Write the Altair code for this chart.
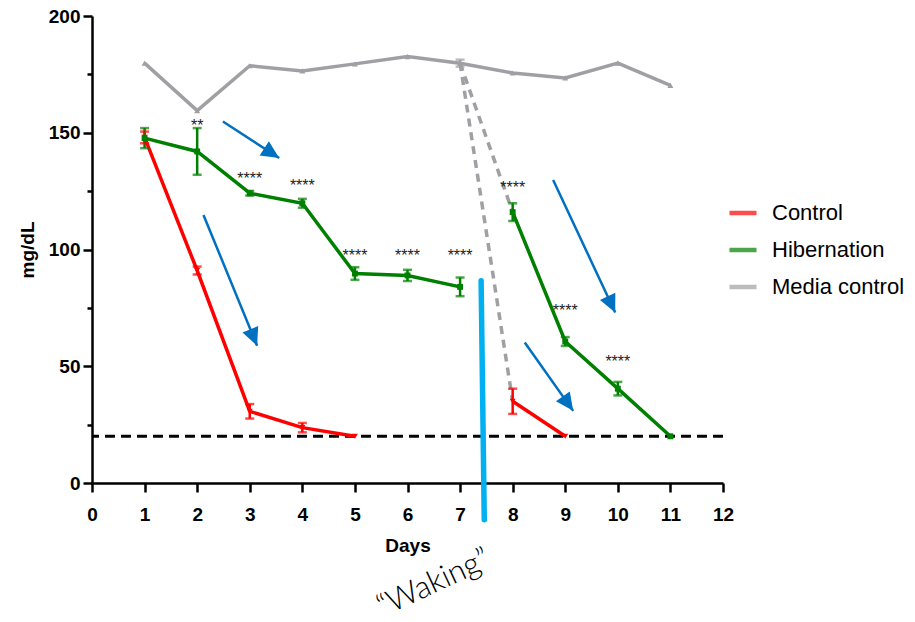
import math
import altair as alt
import pandas as pd

# ---------------- data ----------------
series_names = ["Control", "Hibernation", "Media control"]
series_colors = ["#FF0000", "#008000", "#A0A0A4"]
series_shapes = ["triangle-down", "square", "triangle-up"]

days_control = [1, 2, 3, 4, 5, 8, 9]
control = [148, 91, 30.7, 23.7, 20, 35, 20]
control_err = [2.5, 1.7, 3.1, 2.0, 0, 5.4, 0]
control_seg = [1, 1, 1, 1, 1, 2, 2]

days_hib = [1, 2, 3, 4, 5, 6, 7, 8, 9, 10, 11]
hibernation = [147.7, 142, 124.1, 119.8, 89.7, 88.9, 84, 116, 60.6, 40.4, 20]
hib_err = [4.3, 10, 1.0, 1.9, 2.7, 2.4, 4.0, 3.8, 1.9, 2.9, 0]
hib_seg = [1, 1, 1, 1, 1, 1, 1, 2, 2, 2, 2]

days_media = [1, 2, 3, 4, 5, 6, 7, 8, 9, 10, 11]
media = [179.8, 159.5, 178.7, 176.5, 179.5, 182.6, 179.8, 175.6, 173.5, 179.8, 170.3]
media_err = [0, 0, 0, 0, 0, 0, 1.5, 0, 0, 0, 0]
media_seg = [1] * 11

sig_days = [2, 3, 4, 5, 6, 7, 8, 9, 10]
sig_labels = ["**", "****", "****", "****", "****", "****", "****", "****", "****"]
sig_y = [154.6, 132, 129, 99, 99, 99, 128, 75.4, 53.4]

arrow_x1 = [2.49, 2.12, 8.77, 8.23]
arrow_y1 = [154.8, 114.8, 129.8, 60.2]
arrow_x2 = [3.56, 3.14, 9.95, 9.15]
arrow_y2 = [139.2, 58.8, 73.0, 30.9]

limit_value = 20
waking_x = [7.40, 7.46]
waking_y = [86.6, -15.7]
waking_label = "\u201cWaking\u201d"
waking_text_pos = (6.5, -43)

x_ticks = list(range(0, 13))
y_ticks = [0, 25, 50, 75, 100, 125, 150, 175, 200]

# ---------------- build tables ----------------
W, H = 631, 467
col_of = dict(zip(series_names, series_colors))
shp_of = dict(zip(series_names, series_shapes))
rows = []
for name, ds, vs, es, ss_ in [
    ("Control", days_control, control, control_err, control_seg),
    ("Hibernation", days_hib, hibernation, hib_err, hib_seg),
    ("Media control", days_media, media, media_err, media_seg),
]:
    for d, v, e, s in zip(ds, vs, es, ss_):
        rows.append({"series": name, "day": d, "value": v, "err": e,
                     "lo": v - e, "hi": v + e, "seg": f"{name}-{s}",
                     "hex": col_of[name], "shp": shp_of[name]})
df = pd.DataFrame(rows)
df_err = df[df["err"] > 0]

# dashed connections from media control (day 7) to the day-8 points
i7 = days_media.index(7)
conn = pd.DataFrame([
    {"pair": "c", "day": 7, "value": media[i7]},
    {"pair": "c", "day": 8, "value": control[days_control.index(8)]},
    {"pair": "h", "day": 7, "value": media[i7]},
    {"pair": "h", "day": 8, "value": hibernation[days_hib.index(8)]},
])

sig = pd.DataFrame({"day": sig_days, "y": sig_y, "label": sig_labels})

arr = pd.DataFrame({"x1": arrow_x1, "y1": arrow_y1, "x2": arrow_x2, "y2": arrow_y2})
angs = []
for a, b, c, d in zip(arrow_x1, arrow_y1, arrow_x2, arrow_y2):
    dx = (c - a) * W / 12.0
    dy = -(d - b) * H / 200.0
    angs.append(math.degrees(math.atan2(dx, -dy)) % 360)
arr["ang"] = angs

wk = pd.DataFrame({"x1": [waking_x[0]], "y1": [waking_y[0]],
                   "x2": [waking_x[1]], "y2": [waking_y[1]]})

# ---------------- scales ----------------
xs = alt.Scale(domain=[0, 12], nice=False, zero=False)
ys = alt.Scale(domain=[0, 200], nice=False)
cs = alt.Scale(domain=series_names, range=series_colors)

x_axis = alt.Axis(values=x_ticks, title="Days", labelPadding=13, titlePadding=12,
                  labelAngle=0, labelFlush=False)
y_axis = alt.Axis(values=y_ticks, title="mg/dL",
                  labelExpr="datum.value % 50 == 0 ? datum.label : ''",
                  tickSize={"condition": {"test": "datum.value % 50 != 0", "value": 5}, "value": 9},
                  labelPadding=3, titlePadding=11, labelFlush=False)

base = alt.Chart(df)

limit_rule = alt.Chart(pd.DataFrame({"y": [limit_value]})).mark_rule(
    color="black", strokeWidth=3, strokeDash=[10, 6]
).encode(y=alt.Y("y:Q", scale=ys, axis=y_axis))

conn_lines = alt.Chart(conn).mark_line(
    color="#A0A0A4", strokeWidth=3.5, strokeDash=[8, 6]
).encode(
    x=alt.X("day:Q", scale=xs, axis=x_axis),
    y=alt.Y("value:Q", scale=ys),
    detail="pair:N",
)

lines = base.mark_line(strokeWidth=3.5).encode(
    x=alt.X("day:Q", scale=xs, axis=x_axis),
    y=alt.Y("value:Q", scale=ys, axis=y_axis),
    color=alt.Color("series:N", scale=cs, legend=alt.Legend(
        title=None, orient="none", legendX=635, legendY=181,
        symbolType="stroke", symbolSize=730, symbolStrokeWidth=4.5,
        labelFont="Liberation Sans", labelFontSize=22, labelColor="black",
        labelOffset=13, rowPadding=10, padding=0, labelLimit=300,
    )),
    detail="seg:N",
    order="day:Q",
)

err_rules = alt.Chart(df_err).mark_rule(strokeWidth=2.5).encode(
    x=alt.X("day:Q", scale=xs),
    y=alt.Y("lo:Q", scale=ys),
    y2="hi:Q",
    color=alt.Color("hex:N", scale=None),
)
cap_lo = alt.Chart(df_err).mark_tick(orient="horizontal", size=9, thickness=2.5).encode(
    x=alt.X("day:Q", scale=xs),
    y=alt.Y("lo:Q", scale=ys),
    color=alt.Color("hex:N", scale=None),
)
cap_hi = alt.Chart(df_err).mark_tick(orient="horizontal", size=9, thickness=2.5).encode(
    x=alt.X("day:Q", scale=xs),
    y=alt.Y("hi:Q", scale=ys),
    color=alt.Color("hex:N", scale=None),
)

points = base.mark_point(filled=True, size=35, opacity=1).encode(
    x=alt.X("day:Q", scale=xs),
    y=alt.Y("value:Q", scale=ys),
    color=alt.Color("hex:N", scale=None),
    shape=alt.Shape("shp:N", scale=None),
)

stars = alt.Chart(sig).mark_text(
    font="Liberation Sans", fontSize=16, color="#222222", baseline="alphabetic", dy=9
).encode(
    x=alt.X("day:Q", scale=xs),
    y=alt.Y("y:Q", scale=ys),
    text="label:N",
)

shafts = alt.Chart(arr).mark_rule(color="#0070C0", strokeWidth=2.5).encode(
    x=alt.X("x1:Q", scale=xs), y=alt.Y("y1:Q", scale=ys),
    x2="x2:Q", y2="y2:Q",
)
heads = alt.Chart(arr).mark_point(
    shape="M0,0L-0.5,1.05L0.5,1.05Z", filled=True, color="#0070C0", size=1150, opacity=1
).encode(
    x=alt.X("x2:Q", scale=xs), y=alt.Y("y2:Q", scale=ys),
    angle=alt.Angle("ang:Q", scale=None),
)

waking_line = alt.Chart(wk).mark_rule(
    color="#00B0F0", strokeWidth=5.5, strokeCap="round"
).encode(
    x=alt.X("x1:Q", scale=xs), y=alt.Y("y1:Q", scale=ys),
    x2="x2:Q", y2="y2:Q",
)

waking_text = alt.Chart(pd.DataFrame({"x": [waking_text_pos[0]], "y": [waking_text_pos[1]],
                                      "t": [waking_label]})).mark_text(
    font="Lato", fontWeight=300, fontSize=31, angle=335, color="black"
).encode(
    x=alt.X("x:Q", scale=xs), y=alt.Y("y:Q", scale=ys), text="t:N",
)

chart = alt.layer(
    limit_rule, conn_lines, lines, err_rules, cap_lo, cap_hi, points,
    stars, shafts, heads, waking_line, waking_text,
).properties(
    width=W, height=H,
    autosize=alt.AutoSizeParams(type="none"),
    padding={"left": 84, "top": 8, "right": 183, "bottom": 131},
).configure_view(stroke=None).configure_axis(
    grid=False,
    domainColor="black", domainWidth=2.5,
    tickColor="black", tickWidth=2.5, tickSize=9,
    labelFont="Liberation Sans", labelFontWeight="bold", labelFontSize=19, labelColor="black",
    titleFont="Liberation Sans", titleFontWeight="bold", titleFontSize=19, titleColor="black",
)

chart.save("out.html", embed_options={"renderer": "svg", "actions": False})
